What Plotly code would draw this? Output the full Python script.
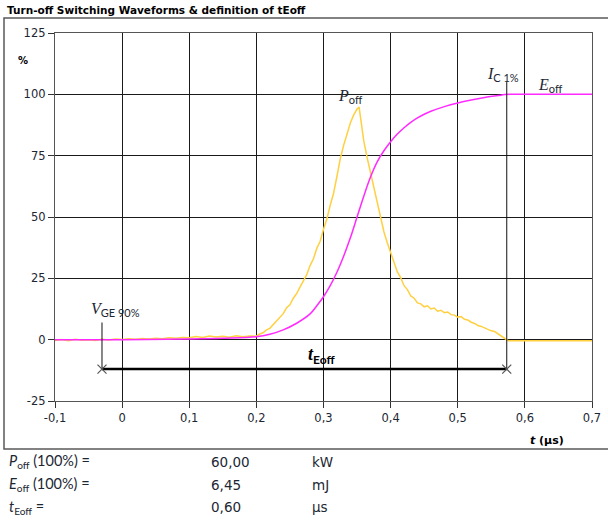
import plotly.graph_objects as go

# ---------------- data ----------------
t_poff = [-0.1, -0.09, -0.08, -0.07, -0.06, -0.05, -0.04, -0.03, -0.02, -0.01, 0.0, 0.01, 0.02, 0.03,
          0.04, 0.05, 0.06, 0.07, 0.08, 0.09, 0.1, 0.11, 0.12, 0.13, 0.14, 0.15, 0.16, 0.17, 0.18,
          0.19, 0.2, 0.205, 0.21, 0.215, 0.22, 0.225, 0.23, 0.235, 0.24, 0.245, 0.25, 0.255, 0.26,
          0.265, 0.27, 0.275, 0.28, 0.285, 0.29, 0.295, 0.30, 0.305, 0.31, 0.315, 0.32, 0.325,
          0.33, 0.335, 0.34, 0.345, 0.35, 0.353, 0.356, 0.36, 0.365, 0.37, 0.375, 0.38, 0.385,
          0.39, 0.395, 0.40, 0.405, 0.41, 0.415, 0.42, 0.425, 0.43, 0.435, 0.44, 0.445, 0.45,
          0.455, 0.46, 0.465, 0.47, 0.475, 0.48, 0.485, 0.49, 0.495, 0.50, 0.505, 0.51, 0.515,
          0.52, 0.525, 0.53, 0.535, 0.54, 0.545, 0.55, 0.555, 0.56, 0.565, 0.57, 0.575, 0.6,
          0.65, 0.7]
p_off = [-0.3, 0.1, -0.4, 0.2, -0.2, 0.0, -0.3, 0.2, -0.1, 0.3, 0.1, 0.4, 0.2, 0.5, 0.3,
         0.6, 0.4, 0.8, 0.6, 0.9, 0.8, 1.3, 0.9, 1.5, 1.1, 1.4, 1.0, 1.6, 1.2, 1.5, 1.4,
         2.3, 2.8, 4.0, 4.6, 6.2, 7.5, 9.4, 10.6, 13.0, 14.2, 16.9, 18.8, 21.4, 24.3, 26.5,
         30.2, 33.0, 37.2, 40.1, 45.0, 49.2, 54.8, 59.7, 66.5, 73.8, 79.2, 84.1, 88.3, 91.6,
         94.0, 94.8, 88.5, 81.0, 74.2, 68.3, 62.0, 56.1, 49.6, 44.0, 39.5, 35.2, 31.0, 27.6,
         25.3, 22.0, 20.4, 17.8, 16.9, 15.0, 14.6, 13.4, 13.8, 12.5, 12.9, 11.6, 12.0, 11.0,
         11.3, 10.2, 10.0, 9.2, 9.4, 8.3, 8.0, 7.1, 6.6, 5.8, 5.4, 4.7, 4.2, 3.6, 3.3, 2.4,
         1.6, 0.6, -0.4, -0.4, -0.4, -0.4]

t_eoff = [-0.1, 0.0, 0.1, 0.15, 0.2, 0.22, 0.24, 0.26, 0.28, 0.29, 0.30, 0.31, 0.32, 0.33,
          0.34, 0.35, 0.36, 0.37, 0.38, 0.39, 0.40, 0.41, 0.42, 0.43, 0.44, 0.45, 0.46, 0.48,
          0.50, 0.52, 0.54, 0.56, 0.57, 0.58, 0.6, 0.7]
e_off = [0.0, 0.0, 0.3, 0.6, 1.2, 2.2, 4.0, 6.7, 10.5, 13.8, 17.5, 22.0, 27.5, 34.0, 41.5,
         50.0, 58.5, 66.3, 72.5, 77.0, 80.7, 83.8, 86.4, 88.6, 90.4, 91.9, 93.1, 95.0,
         96.5, 97.7, 98.7, 99.5, 99.9, 100.0, 100.0, 100.0]

t_vge90 = -0.03      # V_GE 90 % marker time
t_ic1 = 0.573        # I_C 1 % marker time
teoff_level = -12    # level of the t_Eoff arrow
vge_top = 7          # top of the V_GE marker line
ic_top = 105         # top of the I_C marker line

x_ticks = [-0.1, 0.0, 0.1, 0.2, 0.3, 0.4, 0.5, 0.6, 0.7]
x_tick_labels = ["-0,1", "0", "0,1", "0,2", "0,3", "0,4", "0,5", "0,6", "0,7"]
y_ticks = [-25, 0, 25, 50, 75, 100, 125]
y_tick_labels = ["-25", "0", "25", "50", "75", "100", "125"]

table_labels = ["<i>P</i><sub>off</sub> (100%) =", "<i>E</i><sub>off</sub> (100%) =",
                "<i>t</i><sub>Eoff</sub> ="]
table_values = ["60,00", "6,45", "0,60"]
table_units = ["kW", "mJ", "µs"]

# ---------------- figure ----------------
W, H = 608, 521
ML, MR, MT, MB = 55, 16, 33, 120
PW, PH = W - ML - MR, H - MT - MB


def px(x):
    return (x - ML) / PW


def py(y):
    return (H - MB - y) / PH


fig = go.Figure()

fig.add_trace(go.Scatter(x=t_poff, y=p_off, mode="lines",
                         line=dict(color="#FFD040", width=1.5), hoverinfo="skip"))
fig.add_trace(go.Scatter(x=t_eoff, y=e_off, mode="lines", line_shape="spline",
                         line=dict(color="#FF2AFF", width=1.5), hoverinfo="skip"))

# marker lines
fig.add_trace(go.Scatter(x=[t_vge90, t_vge90], y=[vge_top, teoff_level], mode="lines",
                         line=dict(color="#111", width=1), hoverinfo="skip"))
fig.add_trace(go.Scatter(x=[t_ic1, t_ic1], y=[ic_top, teoff_level], mode="lines",
                         line=dict(color="#111", width=1), hoverinfo="skip"))
fig.add_trace(go.Scatter(x=[t_vge90, t_ic1], y=[teoff_level, teoff_level], mode="lines",
                         line=dict(color="#000", width=2.5), hoverinfo="skip"))
fig.add_trace(go.Scatter(x=[t_vge90, t_ic1], y=[teoff_level, teoff_level], mode="markers",
                         marker=dict(symbol="x-thin", size=9, line=dict(color="#555", width=1.2)),
                         hoverinfo="skip"))

serif = "Liberation Serif"
sans = "Lato"
ann = []


def sub(s, size=11, bold=False):
    w = "font-weight:bold;" if bold else ""
    return f'<span style="font-family:{sans};font-size:{size}px;{w}">{s}</span>'


lab_col = "#1c2733"
# in-plot labels
ann.append(dict(x=0.34, y=99, xref="x", yref="y", xanchor="center", yanchor="middle",
                text="<i>P</i><sub>" + sub("off") + "</sub>", showarrow=False,
                font=dict(family=serif, size=16, color=lab_col)))
ann.append(dict(x=0.568, y=108, xref="x", yref="y", xanchor="center", yanchor="middle",
                text="<i>I</i><sub>" + sub("C 1%") + "</sub>", showarrow=False,
                font=dict(family=serif, size=16, color=lab_col)))
ann.append(dict(x=0.638, y=103.5, xref="x", yref="y", xanchor="center", yanchor="middle",
                text="<i>E</i><sub>" + sub("off") + "</sub>", showarrow=False,
                font=dict(family=serif, size=16, color=lab_col)))
ann.append(dict(x=-0.01, y=12.5, xref="x", yref="y", xanchor="center", yanchor="middle",
                text="<i>V</i><sub>" + sub("GE 90%") + "</sub>", showarrow=False,
                font=dict(family=serif, size=16, color=lab_col)))
ann.append(dict(x=0.297, y=-6.5, xref="x", yref="y", xanchor="center", yanchor="middle",
                text="<b><i>t</i></b><sub>" + sub("Eoff", 12, True) + "</sub>", showarrow=False,
                font=dict(family=serif, size=18, color="#000")))

# title, axis labels
ann.append(dict(x=px(5), y=py(10), xref="paper", yref="paper", xanchor="left", yanchor="middle",
                text="<b>Turn-off Switching Waveforms &amp; definition of tEoff</b>", showarrow=False,
                font=dict(family="DejaVu Sans", size=10.5, color="#000")))
ann.append(dict(x=px(23), y=py(60), xref="paper", yref="paper", xanchor="center", yanchor="middle",
                text="<b>%</b>", showarrow=False,
                font=dict(family="DejaVu Sans", size=10, color="#000")))
ann.append(dict(x=px(566), y=py(440), xref="paper", yref="paper", xanchor="right", yanchor="middle",
                text='<b><i>t</i> (µs)</b>', showarrow=False,
                font=dict(family="DejaVu Sans", size=11, color="#000")))

# table below
rows_y = [462, 485, 507]
for i in range(3):
    ann.append(dict(x=px(7), y=py(rows_y[i]), xref="paper", yref="paper", xanchor="left",
                    yanchor="middle", text=table_labels[i], showarrow=False,
                    font=dict(family=sans, size=14.5, color=lab_col)))
    ann.append(dict(x=px(209), y=py(rows_y[i]), xref="paper", yref="paper", xanchor="left",
                    yanchor="middle", text=table_values[i], showarrow=False,
                    font=dict(family="DejaVu Sans", size=13.5, color=lab_col)))
    ann.append(dict(x=px(310), y=py(rows_y[i]), xref="paper", yref="paper", xanchor="left",
                    yanchor="middle", text=table_units[i], showarrow=False,
                    font=dict(family="DejaVu Sans", size=13.5, color=lab_col)))

shapes = [dict(type="rect", xref="paper", yref="paper", x0=px(4), x1=px(614), y0=py(449), y1=py(18),
               line=dict(color="#5a5a5a", width=1.5), fillcolor="rgba(0,0,0,0)", layer="below")]

axis_common = dict(showgrid=True, gridcolor="#1a1a1a", gridwidth=1, zeroline=False,
                   showline=True, linecolor="#555", linewidth=1.3, mirror=True,
                   ticks="outside", ticklen=6, tickcolor="#333", tickwidth=1,
                   tickfont=dict(family="DejaVu Sans", size=11.5, color=lab_col))

fig.update_layout(
    width=W, height=H, margin=dict(l=ML, r=MR, t=MT, b=MB, autoexpand=False),
    paper_bgcolor="white", plot_bgcolor="white", showlegend=False,
    xaxis=dict(range=[-0.1, 0.7], tickvals=x_ticks, ticktext=x_tick_labels, **axis_common),
    yaxis=dict(range=[-25, 125], tickvals=y_ticks, ticktext=y_tick_labels, **axis_common),
    annotations=ann, shapes=shapes,
)

fig.write_html("out.html", config={"displayModeBar": False},
               post_script="document.body.style.margin='0px';document.body.style.overflow='hidden';")
